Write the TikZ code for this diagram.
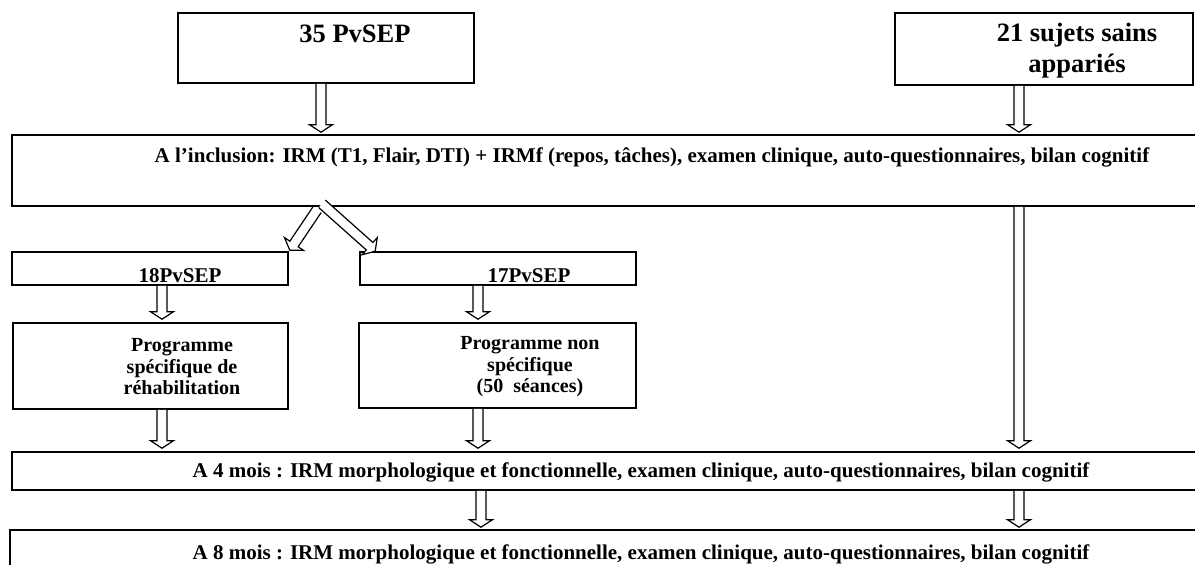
\documentclass[tikz,border=0pt]{standalone}
\usepackage{fontspec}
\setmainfont{Liberation Serif}
\usetikzlibrary{calc,fit}
\tikzset{
  box/.style={draw, line width=1.6pt, rectangle, inner sep=0pt},
  txt/.style={inner sep=0pt, align=center},
  tbig/.style={txt, font=\bfseries\fontsize{26.5}{31}\selectfont},
  tmid/.style={txt, font=\bfseries\fontsize{21}{24}\selectfont},
  tprog/.style={txt, font=\bfseries\fontsize{20}{21.5}\selectfont},
  tline/.style={txt, font=\bfseries\fontsize{21}{24}\selectfont},
  hollow/.style={draw, line width=1.2pt, fill=white, line join=miter},
}
\newcommand\harr[2]{%
  \draw[hollow] ($(#1)!5pt!90:(#2)$) -- ($(#2)!7.5pt!(#1)!5pt!-90:(#1)$)
    -- ($(#2)!7.5pt!(#1)!11.5pt!-90:(#1)$) -- (#2)
    -- ($(#2)!7.5pt!(#1)!11.5pt!90:(#1)$) -- ($(#2)!7.5pt!(#1)!5pt!90:(#1)$)
    -- ($(#1)!5pt!-90:(#2)$);}
\begin{document}
\begin{tikzpicture}[x=1pt,y=-1pt]
\path[use as bounding box, clip] (0,0) rectangle (1195,565);
\fill[white] (0,0) rectangle (1195,565);
% boxes
\node[box, fit={(178,13)(474,83)}] (p35) {};
\node[box, fit={(895,13)(1193,85)}] (s21) {};
\node[box, fit={(12,135)(1205,206)}] (inc) {};
\node[box, fit={(12,252)(288,285)}] (b18) {};
\node[box, fit={(360,252)(636,285)}] (b17) {};
\node[box, fit={(13,323)(288,409)}] (pr1) {};
\node[box, fit={(359,323)(636,408)}] (pr2) {};
\node[box, fit={(12,452)(1215,490)}] (m4) {};
\node[box, fit={(10,530)(1215,600)}] (m8) {};
% texts
\node[tbig] (tp35) at (355,34) {35 PvSEP};
\node[tbig] (ts21) at (1077,51) {21 sujets sains\\appariés};
\node[tline] (tinc) at (652,157) {A l’inclusion: IRM (T1, Flair, DTI) + IRMf (repos, tâches), examen clinique, auto-questionnaires, bilan cognitif};
\node[tmid] (t18) at (180,276) {18PvSEP};
\node[tmid] (t17) at (529,276) {17PvSEP};
\node[tprog] (tpr1) at (182,367) {Programme\\spécifique de\\réhabilitation};
\node[tprog] (tpr2) at (530,367) {Programme non\\spécifique\\(50\ \ séances)};
\node[tline] (tm4) at (641,472) {A 4 mois : IRM morphologique et fonctionnelle, examen clinique, auto-questionnaires, bilan cognitif};
\node[tline] (tm8) at (641,554) {A 8 mois : IRM morphologique et fonctionnelle, examen clinique, auto-questionnaires, bilan cognitif};
% arrow columns
\coordinate (c1) at (321,0);
\coordinate (c2) at (1019,0);
\coordinate (c3) at (162,0);
\coordinate (c4) at (478,0);
\coordinate (c5) at (481,0);
% arrow end points
\coordinate (e1) at ($(inc.north -| c1)+(0,-2)$);
\coordinate (e2) at ($(inc.north -| c2)+(0,-2)$);
\coordinate (e3) at ($(pr1.north -| c3)+(0,-3)$);
\coordinate (e4) at ($(pr2.north -| c4)+(0,-3)$);
\coordinate (e5) at ($(m4.north -| c3)+(0,-3)$);
\coordinate (e6) at ($(m4.north -| c4)+(0,-3)$);
\coordinate (e7) at ($(m4.north -| c2)+(0,-3)$);
\coordinate (e8) at ($(m8.north -| c5)+(0,-2)$);
\coordinate (e9) at ($(m8.north -| c2)+(0,-2)$);
\coordinate (ds1) at ($(inc.south -| c1)+(-4,3)$);
\coordinate (ds2) at ($(inc.south -| c1)+(1,-3)$);
\coordinate (de1) at ($(b18.north east)+(1,-1)$);
\coordinate (de2) at ($(b17.north west)+(16,0)$);
% arrows
\harr{p35.south -| c1}{e1}
\harr{s21.south -| c2}{e2}
\harr{ds1}{de1}
\harr{ds2}{de2}
\harr{b18.south -| c3}{e3}
\harr{b17.south -| c4}{e4}
\harr{pr1.south -| c3}{e5}
\harr{pr2.south -| c4}{e6}
\harr{inc.south -| c2}{e7}
\harr{m4.south -| c5}{e8}
\harr{m4.south -| c2}{e9}
\end{tikzpicture}
\end{document}
